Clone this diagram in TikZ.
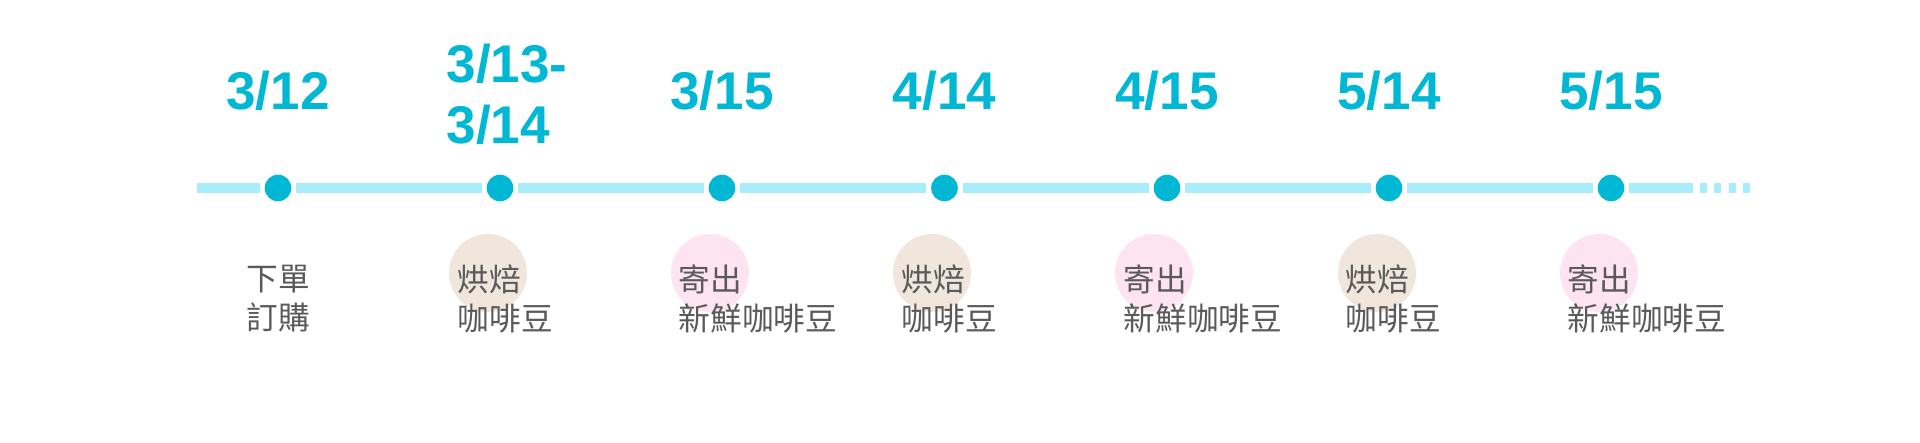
\documentclass[tikz,border=0pt]{standalone}
\usepackage{fontspec}
\setsansfont{Liberation Sans}
\newfontfamily\cjkfont{Noto Sans CJK TC}
\usetikzlibrary{positioning}
\definecolor{DotCyan}{HTML}{00B8D4}
\definecolor{TrackCyan}{HTML}{A8EEFA}
\definecolor{RoastBeige}{HTML}{F0E6DC}
\definecolor{ShipPink}{HTML}{FDE4F0}
\definecolor{NoteGray}{HTML}{5A5A5A}
\tikzset{daydot/.style={circle,fill=DotCyan,minimum size=0.266cm,inner sep=0pt,outer sep=1.42pt},datelabel/.style={text=DotCyan,font=\sffamily\bfseries\fontsize{15.1}{17.4}\selectfont,align=left,inner sep=0pt},track/.style={draw=TrackCyan,line width=2.85pt},notetext/.style={text=NoteGray,font=\cjkfont\fontsize{9}{11.2}\selectfont,align=left,inner sep=0pt,anchor=north west},roastbg/.style={circle,fill=RoastBeige,minimum size=0.78cm,inner sep=0pt},shipbg/.style={circle,fill=ShipPink,minimum size=0.78cm,inner sep=0pt}}
\begin{document}
\begin{tikzpicture}[x=0.01cm,y=-0.01cm]
\useasboundingbox[fill=white] (0,0) rectangle (1920,443);
% timeline stops
\node[daydot] (d1) at (278,188) {};\node[daydot] (d2) at (500,188) {};\node[daydot] (d3) at (722,188) {};
\node[daydot] (d4) at (944.5,188) {};\node[daydot] (d5) at (1167,188) {};\node[daydot] (d6) at (1389,188) {};\node[daydot] (d7) at (1611,188) {};
\coordinate (start) at (197,188);\coordinate (fade) at (1693,188);\coordinate (dots) at (1700,188);\coordinate (tip) at (1750,188);
\draw[track] (start)--(d1);\draw[track] (d1)--(d2);\draw[track] (d2)--(d3);\draw[track] (d3)--(d4);
\draw[track] (d4)--(d5);\draw[track] (d5)--(d6);\draw[track] (d6)--(d7);\draw[track] (d7)--(fade);
\draw[track,dash pattern=on 2pt off 2.1pt] (dots)--(tip);
% dates
\node[datelabel] (t1) at (278,91) {3/12};\node[datelabel] (t2) at (507,94) {3/13-\\3/14};\node[datelabel] (t3) at (722,91) {3/15};
\node[datelabel] (t4) at (944.5,91) {4/14};\node[datelabel] (t5) at (1167,91) {4/15};\node[datelabel] (t6) at (1389,91) {5/14};\node[datelabel] (t7) at (1611,91) {5/15};
% tags behind the first line
\node[roastbg] (c2) at (488,273) {};\node[shipbg] (c3) at (710,273) {};\node[roastbg] (c4) at (932,273) {};
\node[shipbg] (c5) at (1154,273) {};\node[roastbg] (c6) at (1377,273) {};\node[shipbg] (c7) at (1599,273) {};
% notes
\node[notetext,anchor=north,align=center] (n1) at (278,264) {下單\\訂購};
\node[notetext] (n2) at (457,264) {烘焙\\咖啡豆};\node[notetext] (n3) at (678,264) {寄出\\新鮮咖啡豆};
\node[notetext] (n4) at (901,264) {烘焙\\咖啡豆};\node[notetext] (n5) at (1123,264) {寄出\\新鮮咖啡豆};
\node[notetext] (n6) at (1345,264) {烘焙\\咖啡豆};\node[notetext] (n7) at (1567,264) {寄出\\新鮮咖啡豆};
\end{tikzpicture}
\end{document}
